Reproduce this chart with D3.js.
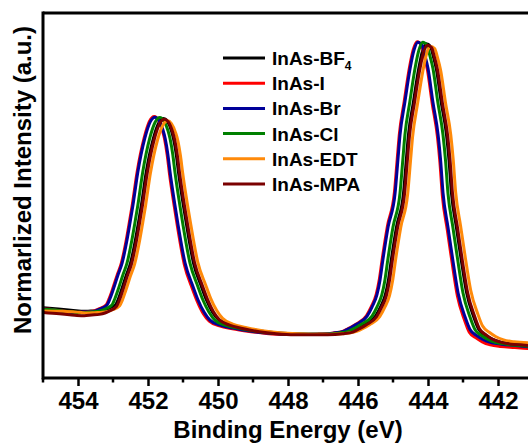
<!DOCTYPE html>
<html>
<head>
<meta charset="utf-8">
<script src="https://cdn.jsdelivr.net/npm/d3@7"></script>
<style>
  body { margin: 0; background: #fff; }
  svg { display: block; font-family: 'Liberation Sans', Arial, sans-serif; font-weight: bold; }
</style>
</head>
<body>
<div class="chart"></div>
<script>
// series: [binding energy (eV), normalized intensity]
const bf4 = [[455.00,0.210],[454.56,0.206],[454.27,0.203],[454.06,0.201],[453.85,0.199],[453.64,0.200],[453.42,0.201],[453.26,0.203],[453.13,0.207],[452.93,0.218],[452.85,0.235],[452.76,0.262],[452.62,0.307],[452.50,0.343],[452.36,0.412],[452.27,0.466],[452.19,0.516],[452.05,0.615],[451.85,0.714],[451.70,0.760],[451.56,0.775],[451.45,0.767],[451.33,0.738],[451.27,0.714],[451.19,0.666],[451.13,0.615],[450.99,0.516],[450.90,0.458],[450.70,0.343],[450.47,0.272],[450.33,0.233],[450.16,0.197],[449.99,0.175],[449.70,0.160],[449.33,0.150],[448.85,0.141],[448.36,0.135],[447.85,0.132],[447.42,0.131],[446.90,0.131],[446.47,0.134],[446.16,0.140],[445.99,0.149],[445.79,0.161],[445.50,0.185],[445.36,0.212],[445.22,0.248],[445.13,0.293],[445.05,0.352],[444.90,0.451],[444.70,0.552],[444.62,0.651],[444.56,0.725],[444.42,0.822],[444.27,0.921],[444.16,0.975],[444.05,0.998],[443.93,0.990],[443.85,0.962],[443.76,0.922],[443.62,0.822],[443.47,0.725],[443.40,0.651],[443.33,0.552],[443.19,0.451],[443.05,0.352],[442.90,0.256],[442.70,0.184],[442.56,0.147],[442.36,0.128],[442.19,0.117],[441.96,0.108],[441.66,0.103],[441.26,0.100],[441.14,0.099]]

const iodide = [[455.00,0.207],[454.82,0.205],[454.53,0.201],[454.32,0.199],[454.11,0.195],[453.90,0.196],[453.68,0.198],[453.52,0.201],[453.39,0.207],[453.19,0.219],[453.11,0.237],[453.02,0.263],[452.88,0.308],[452.76,0.344],[452.62,0.413],[452.53,0.467],[452.45,0.517],[452.31,0.616],[452.11,0.717],[451.96,0.766],[451.82,0.781],[451.71,0.771],[451.59,0.740],[451.53,0.715],[451.45,0.664],[451.39,0.613],[451.25,0.513],[451.16,0.453],[450.96,0.338],[450.73,0.266],[450.59,0.228],[450.42,0.192],[450.25,0.170],[449.96,0.156],[449.59,0.147],[449.11,0.139],[448.62,0.133],[448.11,0.130],[447.68,0.130],[447.16,0.131],[446.73,0.134],[446.42,0.140],[446.25,0.149],[446.05,0.161],[445.76,0.186],[445.62,0.213],[445.48,0.250],[445.39,0.295],[445.31,0.354],[445.16,0.453],[444.96,0.554],[444.88,0.653],[444.82,0.727],[444.68,0.826],[444.53,0.927],[444.42,0.981],[444.31,1.004],[444.19,0.995],[444.11,0.963],[444.02,0.922],[443.88,0.820],[443.73,0.720],[443.66,0.645],[443.59,0.545],[443.45,0.443],[443.31,0.343],[443.16,0.245],[442.96,0.174],[442.82,0.137],[442.62,0.119],[442.45,0.108],[442.22,0.099],[441.92,0.094],[441.52,0.091],[441.14,0.088]]

const bromide = [[455.00,0.206],[454.80,0.204],[454.51,0.200],[454.30,0.198],[454.09,0.194],[453.88,0.197],[453.66,0.197],[453.50,0.200],[453.37,0.206],[453.17,0.218],[453.09,0.236],[453.00,0.262],[452.86,0.307],[452.74,0.343],[452.60,0.412],[452.51,0.466],[452.43,0.516],[452.29,0.615],[452.09,0.716],[451.94,0.764],[451.80,0.779],[451.69,0.770],[451.57,0.740],[451.51,0.716],[451.43,0.666],[451.37,0.615],[451.23,0.516],[451.14,0.457],[450.94,0.343],[450.71,0.272],[450.57,0.233],[450.40,0.197],[450.23,0.173],[449.94,0.158],[449.57,0.149],[449.09,0.140],[448.60,0.134],[448.09,0.131],[447.66,0.131],[447.14,0.131],[446.71,0.134],[446.40,0.140],[446.23,0.149],[446.03,0.161],[445.74,0.185],[445.60,0.212],[445.46,0.248],[445.37,0.293],[445.29,0.352],[445.14,0.451],[444.94,0.552],[444.86,0.651],[444.80,0.725],[444.66,0.824],[444.51,0.925],[444.40,0.979],[444.29,1.003],[444.17,0.994],[444.09,0.964],[444.00,0.925],[443.86,0.824],[443.71,0.725],[443.64,0.651],[443.57,0.552],[443.43,0.451],[443.29,0.352],[443.14,0.254],[442.94,0.182],[442.80,0.145],[442.60,0.126],[442.43,0.115],[442.20,0.106],[441.90,0.101],[441.50,0.097],[441.14,0.093]]

const chloride = [[455.00,0.205],[454.66,0.203],[454.37,0.199],[454.16,0.197],[453.95,0.195],[453.74,0.196],[453.52,0.198],[453.36,0.201],[453.23,0.206],[453.03,0.218],[452.95,0.236],[452.86,0.262],[452.72,0.307],[452.60,0.343],[452.46,0.412],[452.37,0.466],[452.29,0.516],[452.15,0.615],[451.95,0.716],[451.80,0.763],[451.66,0.778],[451.55,0.769],[451.43,0.739],[451.37,0.715],[451.29,0.666],[451.23,0.615],[451.09,0.516],[451.00,0.457],[450.80,0.343],[450.57,0.272],[450.43,0.233],[450.26,0.197],[450.09,0.173],[449.80,0.158],[449.43,0.149],[448.95,0.140],[448.46,0.134],[447.95,0.131],[447.52,0.131],[447.00,0.131],[446.57,0.134],[446.26,0.140],[446.09,0.149],[445.89,0.161],[445.60,0.185],[445.46,0.212],[445.32,0.248],[445.23,0.293],[445.15,0.352],[445.00,0.451],[444.80,0.552],[444.72,0.651],[444.66,0.725],[444.52,0.824],[444.37,0.925],[444.26,0.979],[444.15,1.003],[444.03,0.994],[443.95,0.964],[443.86,0.925],[443.72,0.824],[443.57,0.725],[443.50,0.651],[443.43,0.552],[443.29,0.451],[443.15,0.352],[443.00,0.254],[442.80,0.182],[442.66,0.145],[442.46,0.126],[442.29,0.115],[442.06,0.106],[441.76,0.101],[441.36,0.097],[441.14,0.095]]

const edt = [[455.00,0.200],[454.44,0.199],[454.15,0.198],[453.94,0.196],[453.73,0.194],[453.52,0.195],[453.30,0.196],[453.14,0.199],[453.01,0.204],[452.81,0.216],[452.73,0.233],[452.64,0.260],[452.50,0.305],[452.38,0.341],[452.24,0.410],[452.15,0.464],[452.07,0.514],[451.93,0.612],[451.73,0.710],[451.58,0.754],[451.44,0.768],[451.33,0.760],[451.21,0.732],[451.15,0.710],[451.07,0.662],[451.01,0.613],[450.87,0.516],[450.78,0.460],[450.58,0.347],[450.35,0.277],[450.21,0.238],[450.04,0.202],[449.87,0.178],[449.58,0.161],[449.21,0.151],[448.73,0.141],[448.24,0.135],[447.73,0.132],[447.30,0.131],[446.78,0.131],[446.35,0.133],[446.04,0.139],[445.87,0.147],[445.67,0.159],[445.38,0.183],[445.24,0.210],[445.10,0.246],[445.01,0.291],[444.93,0.350],[444.78,0.449],[444.58,0.550],[444.50,0.648],[444.44,0.720],[444.30,0.818],[444.15,0.915],[444.04,0.969],[443.93,0.990],[443.81,0.984],[443.73,0.958],[443.64,0.920],[443.50,0.822],[443.35,0.727],[443.28,0.653],[443.21,0.555],[443.07,0.455],[442.93,0.357],[442.78,0.262],[442.58,0.192],[442.44,0.155],[442.24,0.136],[442.07,0.124],[441.84,0.114],[441.54,0.108],[441.14,0.105]]

const mpa = [[455.00,0.196],[454.53,0.192],[454.24,0.189],[454.03,0.187],[453.82,0.186],[453.61,0.188],[453.39,0.190],[453.23,0.194],[453.10,0.200],[452.90,0.214],[452.82,0.232],[452.73,0.259],[452.59,0.305],[452.47,0.341],[452.33,0.410],[452.24,0.464],[452.16,0.514],[452.02,0.613],[451.82,0.713],[451.67,0.759],[451.53,0.773],[451.42,0.765],[451.30,0.736],[451.24,0.713],[451.16,0.664],[451.10,0.614],[450.96,0.516],[450.87,0.459],[450.67,0.345],[450.44,0.274],[450.30,0.235],[450.13,0.198],[449.96,0.174],[449.67,0.158],[449.30,0.148],[448.82,0.138],[448.33,0.132],[447.82,0.129],[447.39,0.129],[446.87,0.129],[446.44,0.132],[446.13,0.138],[445.96,0.147],[445.76,0.159],[445.47,0.183],[445.33,0.210],[445.19,0.246],[445.10,0.291],[445.02,0.350],[444.87,0.449],[444.67,0.550],[444.59,0.649],[444.53,0.722],[444.39,0.820],[444.24,0.918],[444.13,0.972],[444.02,0.994],[443.90,0.987],[443.82,0.960],[443.73,0.921],[443.59,0.822],[443.44,0.725],[443.37,0.651],[443.30,0.552],[443.16,0.451],[443.02,0.352],[442.87,0.256],[442.67,0.185],[442.53,0.147],[442.33,0.128],[442.16,0.116],[441.93,0.107],[441.63,0.101],[441.23,0.098],[441.14,0.097]]

const labels = ['InAs-BF', 'InAs-I', 'InAs-Br', 'InAs-Cl', 'InAs-EDT', 'InAs-MPA']
const colors = ['#000000', '#ff0000', '#000099', '#008000', '#ff8a0a', '#7a0000']
const series = [bf4, iodide, bromide, chloride, edt, mpa]

const majorTicks = [454, 452, 450, 448, 446, 444, 442]
const minorTicks = [455, 453, 451, 449, 447, 445, 443, 441]

const width = 528
const height = 447
const plotLeft = 43
const plotTop = 13
const plotBottom = 378
const plotRight = 533

const svg = d3
  .select('.chart')
  .append('svg')
  .attr('width', width)
  .attr('height', height)

const x = d3.scaleLinear().domain([455, 441]).range([plotLeft, plotRight])
const y = d3.scaleLinear().domain([0, 1.09]).range([plotBottom, plotTop])

const line = d3
  .line()
  .x((d) => x(d[0]))
  .y((d) => y(d[1]))
  .curve(d3.curveMonotoneX)

svg
  .selectAll('path.trace')
  .data(series)
  .enter()
  .append('path')
  .attr('class', 'trace')
  .attr('d', line)
  .attr('fill', 'none')
  .attr('stroke', (_, i) => colors[i])
  .attr('stroke-width', 3)
  .attr('stroke-linejoin', 'round')

// frame: top and left lines
svg
  .append('line')
  .attr('x1', plotLeft)
  .attr('x2', plotRight)
  .attr('y1', plotTop)
  .attr('y2', plotTop)
  .attr('stroke', '#000')
  .attr('stroke-width', 3)

svg
  .append('line')
  .attr('x1', plotLeft)
  .attr('x2', plotLeft)
  .attr('y1', plotTop - 1.5)
  .attr('y2', plotBottom + 1.5)
  .attr('stroke', '#000')
  .attr('stroke-width', 3)

const xAxis = svg
  .append('g')
  .attr('transform', `translate(0, ${plotBottom})`)
  .call(d3.axisBottom(x).tickValues(majorTicks).tickSize(8).tickFormat(d3.format('d')))

xAxis.select('.domain').attr('stroke-width', 3).attr('d', `M${plotLeft},0H${plotRight}`)
xAxis.selectAll('.tick line').attr('stroke-width', 2.5)
xAxis
  .selectAll('.tick text')
  .attr('y', 31)
  .attr('dy', null)
  .attr('font-size', 24)
  .attr('font-family', "'Liberation Sans', Arial, sans-serif")
  .attr('font-weight', 'bold')
  .attr('fill', '#000')

svg
  .append('g')
  .selectAll('line')
  .data(minorTicks)
  .enter()
  .append('line')
  .attr('x1', (d) => x(d))
  .attr('x2', (d) => x(d))
  .attr('y1', plotBottom)
  .attr('y2', plotBottom + 4.5)
  .attr('stroke', '#000')
  .attr('stroke-width', 2.5)

svg
  .append('text')
  .attr('x', (plotLeft + plotRight) / 2)
  .attr('y', 438)
  .attr('text-anchor', 'middle')
  .attr('font-size', 24)
  .text('Binding Energy (eV)')

svg
  .append('text')
  .attr('transform', 'translate(31, 180) rotate(-90)')
  .attr('text-anchor', 'middle')
  .attr('font-size', 24)
  .text('Normarlized Intensity (a.u.)')

const legend = svg
  .append('g')
  .selectAll('g')
  .data(labels)
  .enter()
  .append('g')
  .attr('transform', (_, i) => `translate(223, ${58 + i * 25.2})`)

legend
  .append('line')
  .attr('x1', 0)
  .attr('x2', 42)
  .attr('stroke', (_, i) => colors[i])
  .attr('stroke-width', 3)

const legendText = legend
  .append('text')
  .attr('x', 49)
  .attr('y', 7)
  .attr('font-size', 19)
  .text((d) => d)

legendText
  .filter((_, i) => i === 0)
  .append('tspan')
  .attr('font-size', 12)
  .attr('dy', 5)
  .text('4')
</script>
</body>
</html>
